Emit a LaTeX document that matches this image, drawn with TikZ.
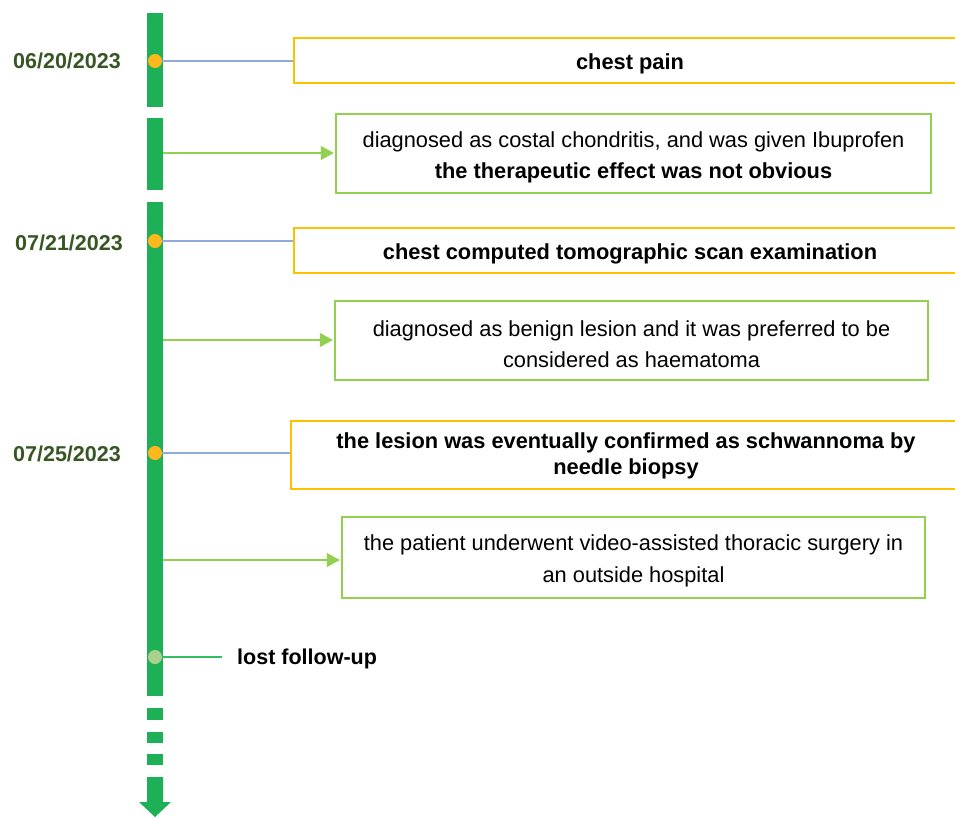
\documentclass[tikz,border=0pt]{standalone}
\usepackage{fontspec}
\setmainfont{Liberation Sans}
\usetikzlibrary{arrows.meta}
\definecolor{barg}{RGB}{29,176,86}
\definecolor{orng}{RGB}{255,192,0}
\definecolor{dotor}{RGB}{255,184,28}
\definecolor{boxg}{RGB}{146,208,80}
\definecolor{lineb}{RGB}{143,170,220}
\definecolor{dateg}{RGB}{55,86,35}
\definecolor{dotlg}{RGB}{169,209,142}
\definecolor{lfline}{RGB}{52,190,100}
\tikzset{
  bar/.style={fill=barg},
  obox/.style={draw=orng, line width=1.4pt, inner sep=0pt},
  gbox/.style={draw=boxg, line width=1.4pt, inner sep=0pt},
  otext/.style={inner sep=0pt, align=center, font=\fontsize{21.8}{26}\selectfont\bfseries},
  gtext/.style={inner sep=0pt, align=center, font=\fontsize{21.8}{31.5}\selectfont},
  datelbl/.style={text=dateg, font=\fontsize{21.5}{26}\selectfont\bfseries, inner sep=0pt},
  odot/.style={circle, fill=dotor, minimum size=14pt, inner sep=0pt},
  gdot/.style={circle, fill=dotlg, minimum size=14pt, inner sep=0pt},
  bline/.style={draw=lineb, line width=1.2pt},
  garrow/.style={draw=boxg, line width=1.2pt, -{Triangle[length=13pt,width=14pt]}, shorten >=1.5pt},
}
\begin{document}
\begin{tikzpicture}[x=1pt,y=-1pt]
\useasboundingbox (0,0) rectangle (955,817);
% timeline bar
\fill[bar] (147,13) rectangle (163,107);
\fill[bar] (147,118) rectangle (163,190);
\fill[bar] (147,202) rectangle (163,696);
\fill[bar] (147,708) rectangle (163,720);
\fill[bar] (147,732) rectangle (163,743);
\fill[bar] (147,754) rectangle (163,765);
\fill[bar] (147,777) -- (163,777) -- (163,802) -- (171,802) -- (155,817) -- (139,802) -- (147,802) -- cycle;
% dates
\node[datelbl] (t1) at (67,61) {06/20/2023};
\node[datelbl] (t2) at (69,243) {07/21/2023};
\node[datelbl] (t3) at (67,454) {07/25/2023};
% dots
\node[odot] (d1) at (155,61) {};
\node[odot] (d2) at (155,241) {};
\node[odot] (d3) at (155,453) {};
\node[gdot] (d4) at (155,657) {};
% boxes
\node[obox, minimum width=672pt, minimum height=45pt] (b1) at (630,60.5) {};
\node[otext] (x1) at (630,63.5) {chest pain};
\node[gbox, minimum width=595pt, minimum height=79pt] (b2) at (633.5,153.5) {};
\node[gtext] (x2) at (633.5,157.5) {diagnosed as costal chondritis, and was given Ibuprofen\\\textbf{the therapeutic effect was not obvious}};
\node[obox, minimum width=672pt, minimum height=45pt] (b3) at (630,250.5) {};
\node[otext] (x3) at (630,253.5) {chest computed tomographic scan examination};
\node[gbox, minimum width=593pt, minimum height=79pt] (b4) at (631.5,340.5) {};
\node[gtext] (x4) at (631.5,344) {diagnosed as benign lesion and it was preferred to be\\considered as haematoma};
\node[obox, minimum width=670pt, minimum height=68pt] (b5) at (626,455) {};
\node[otext] (x5) at (626,456) {the lesion was eventually confirmed as schwannoma by\\needle biopsy};
\node[gbox, minimum width=583pt, minimum height=81pt] (b6) at (633.5,557.5) {};
\node[gtext] (x6) at (633.5,561) {the patient underwent video-assisted thoracic surgery in\\an outside hospital};
% connectors
\coordinate (a2) at (163,153);
\coordinate (a4) at (163,340);
\coordinate (a6) at (163,560);
\coordinate (l4) at (222,657);
\draw[bline] (d1.east) -- (b1.west |- d1.east);
\draw[bline] (d2.east) -- (b3.west |- d2.east);
\draw[bline] (d3.east) -- (b5.west |- d3.east);
\draw[garrow] (a2) -- (b2.west |- a2);
\draw[garrow] (a4) -- (b4.west |- a4);
\draw[garrow] (a6) -- (b6.west |- a6);
\draw[draw=lfline, line width=2pt] (d4.east) -- (l4);
\node[anchor=west, inner sep=0pt, font=\fontsize{21.5}{26}\selectfont\bfseries] (lf) at (237,659) {lost follow-up};
\end{tikzpicture}
\end{document}
